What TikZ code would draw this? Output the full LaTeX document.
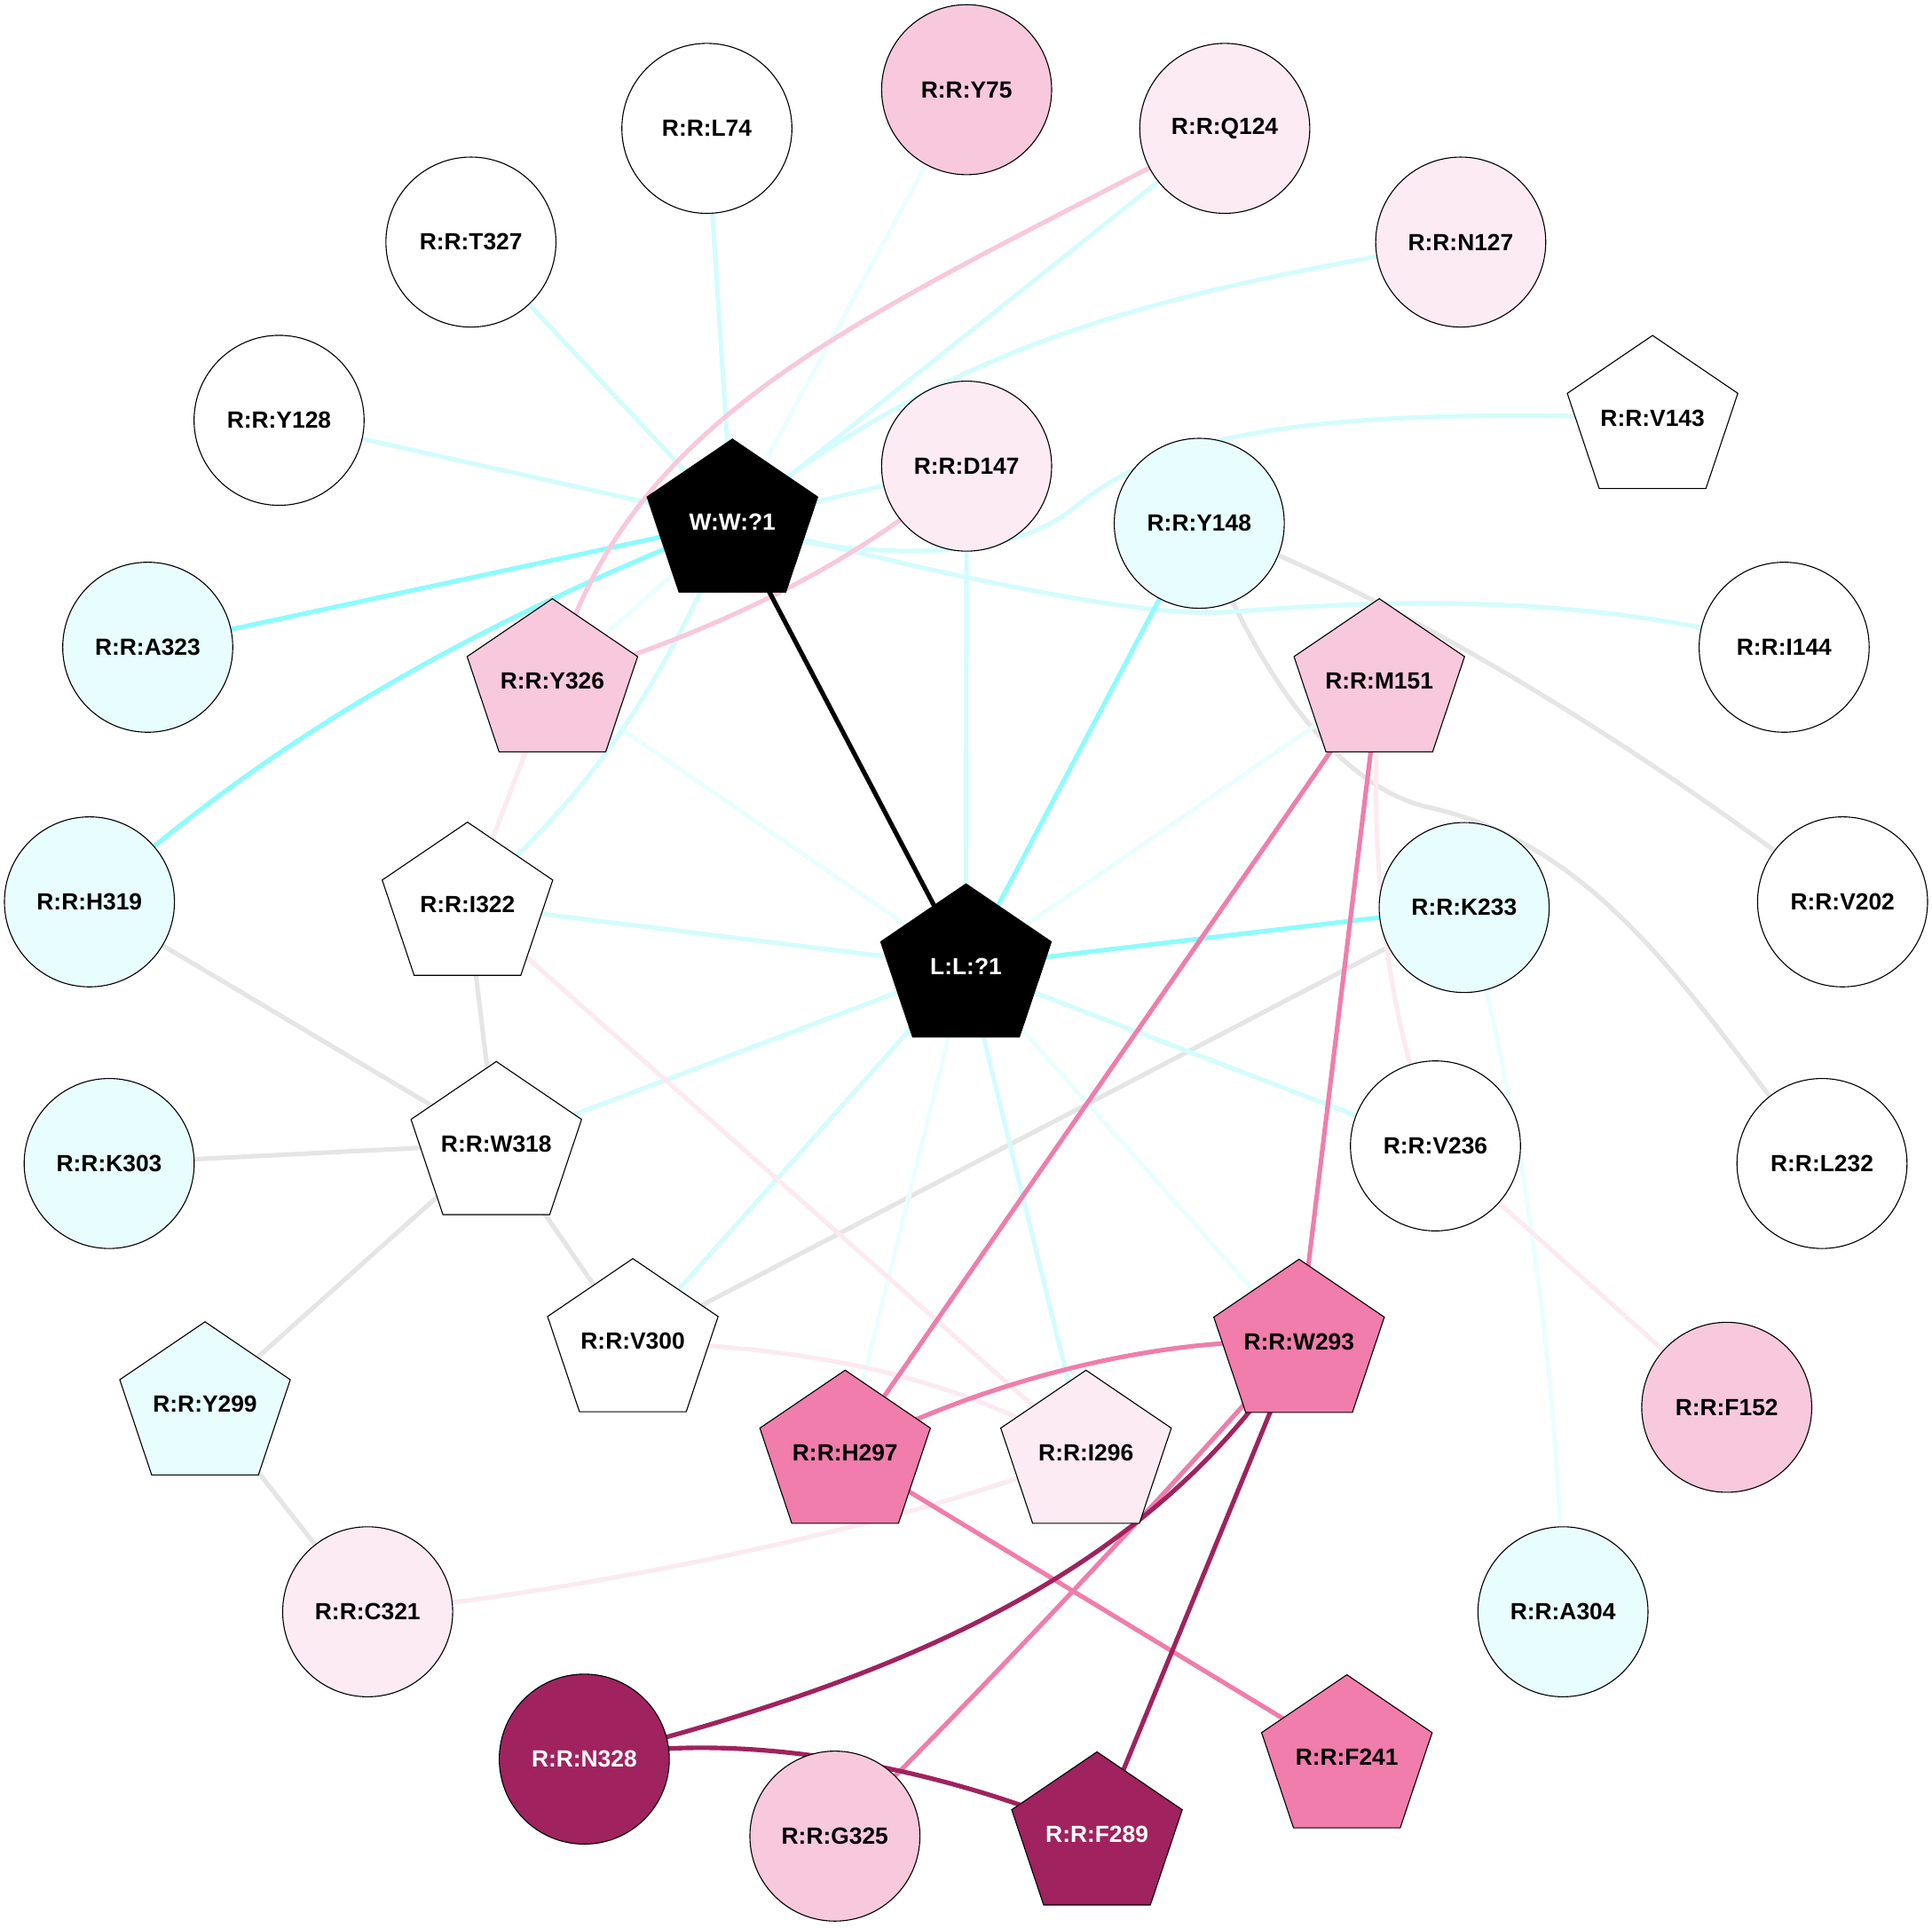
\documentclass[tikz,border=0pt]{standalone}
\usepackage{fontspec}
\setmainfont{Liberation Sans}
\pgfdeclarelayer{bg}
\pgfdeclarelayer{mid}
\pgfsetlayers{bg,mid,main}
\definecolor{nLC}{HTML}{E8FEFE}
\definecolor{nLP}{HTML}{FCEBF3}
\definecolor{nP}{HTML}{F8C8DD}
\definecolor{nM}{HTML}{F07DAC}
\definecolor{nD}{HTML}{A0225E}
\definecolor{eC}{HTML}{D4FCFC}
\definecolor{eCF}{HTML}{EAFEFE}
\definecolor{eCB}{HTML}{8CFCFC}
\definecolor{eG}{HTML}{E5E5E5}
\definecolor{eP}{HTML}{F8C8DC}
\definecolor{ePF}{HTML}{FCEAF1}
\definecolor{eM}{HTML}{F07DAB}
\definecolor{eD}{HTML}{A0225E}
\tikzset{
  nfont/.style={font=\fontsize{19pt}{22pt}\selectfont\bfseries},
  circ/.style={nfont, draw=black, line width=0.8pt, inner sep=0pt, text=black,
    circle, minimum size=138pt},
  ptext/.style={nfont, inner sep=0pt, text=black},
  pentline/.style={draw=black, line width=0.8pt, line join=miter},
  fw/.style={fill=white},
  flc/.style={fill=nLC},
  flp/.style={fill=nLP},
  fp/.style={fill=nP},
  fm/.style={fill=nM},
  fd/.style={fill=nD, text=white},
  fk/.style={fill=black, text=white},
  wtext/.style={text=white},
  edgebase/.style={line width=3.7pt},
  ecyan/.style={edgebase, draw=eC},
  efaintc/.style={edgebase, draw=eCF},
  ebright/.style={edgebase, draw=eCB},
  egray/.style={edgebase, draw=eG},
  epink/.style={edgebase, draw=eP},
  efaintp/.style={edgebase, draw=ePF},
  emed/.style={edgebase, draw=eM},
  edark/.style={edgebase, draw=eD},
  eblack/.style={edgebase, draw=black},
}
% pentagon outline around a named text node (label centre)
\newcommand\pentaround[2]{%
  \begin{pgfonlayer}{mid}
  \path[pentline,#2] ([shift={(0,-67)}]#1.center) -- ([shift={(69.2,-20)}]#1.center)
    -- ([shift={(43.3,57.3)}]#1.center) -- ([shift={(-43.3,57.3)}]#1.center)
    -- ([shift={(-69.2,-20)}]#1.center) -- cycle;
  \end{pgfonlayer}}
\begin{document}
\begin{tikzpicture}[x=1pt,y=-1pt]
\useasboundingbox (0,0) rectangle (1568,1564.4);
% circles
\node[circ,fw]  (L74)  at (573.7,104.2) {R:R:L74};
\node[circ,fp]  (Y75)  at (784.5,72.8) {R:R:Y75};
\node[circ,flp] (Q124) at (994,104.2) {R:R:Q124};
\node[circ,fw]  (T327) at (382.2,196.5) {R:R:T327};
\node[circ,flp] (N127) at (1185.5,196.5) {R:R:N127};
\node[circ,fw]  (Y128) at (226.5,341.2) {R:R:Y128};
\node[circ,flp] (D147) at (784.5,378.4) {R:R:D147};
\node[circ,flc] (Y148) at (973.3,424.8) {R:R:Y148};
\node[circ,flc] (A323) at (119.9,525.4) {R:R:A323};
\node[circ,fw]  (I144) at (1448,525.4) {R:R:I144};
\node[circ,flc] (H319) at (72.6,732.1) {R:R:H319};
\node[circ,flc] (K233) at (1188.3,736.7) {R:R:K233};
\node[circ,fw]  (V202) at (1495.4,732.1) {R:R:V202};
\node[circ,flc] (K303) at (88.6,944.5) {R:R:K303};
\node[circ,fw]  (V236) at (1165,930.2) {R:R:V236};
\node[circ,fw]  (L232) at (1478.7,944.5) {R:R:L232};
\node[circ,fp]  (F152) at (1401.4,1142.4) {R:R:F152};
\node[circ,flp] (C321) at (298.4,1308.4) {R:R:C321};
\node[circ,flc] (A304) at (1268.5,1308.4) {R:R:A304};
\node[circ,fd]  (N328) at (474.2,1428) {R:R:N328};
\node[circ,fp]  (G325) at (677.6,1490.5) {R:R:G325};
% pentagon nodes (text at label centre; outline drawn by \pentaround)
\node[ptext,wtext] (W)    at (594.4,423.4) {W:W:?1};
\node[ptext] (Y326) at (448.3,553) {R:R:Y326};
\node[ptext] (M151) at (1119.4,553) {R:R:M151};
\node[ptext] (V143) at (1341.2,339.3) {R:R:V143};
\node[ptext] (I322) at (379.4,734.4) {R:R:I322};
\node[ptext,wtext] (L)    at (784,784.5) {L:L:?1};
\node[ptext] (W318) at (402.8,928.7) {R:R:W318};
\node[ptext] (V300) at (513.6,1088.7) {R:R:V300};
\node[ptext] (Y299) at (166.4,1140) {R:R:Y299};
\node[ptext] (H297) at (685.9,1179.3) {R:R:H297};
\node[ptext] (W293) at (1054.3,1089.2) {R:R:W293};
\node[ptext] (I296) at (881.4,1179.3) {R:R:I296};
\node[ptext] (F241) at (1093.1,1426.5) {R:R:F241};
\node[ptext,wtext] (F289) at (890.3,1489.1) {R:R:F289};
\pentaround{W}{fill=black}
\pentaround{Y326}{fill=nP}
\pentaround{M151}{fill=nP}
\pentaround{V143}{fill=white}
\pentaround{I322}{fill=white}
\pentaround{L}{fill=black}
\pentaround{W318}{fill=white}
\pentaround{V300}{fill=white}
\pentaround{Y299}{fill=nLC}
\pentaround{H297}{fill=nM}
\pentaround{W293}{fill=nM}
\pentaround{I296}{fill=nLP}
\pentaround{F241}{fill=nM}
\pentaround{F289}{fill=nD}

\begin{pgfonlayer}{bg}
% gray
\draw[egray] (Y148.center) .. controls (1150,490) and (1350,620) .. (V202.center);
\draw[egray] (Y148.center) .. controls (1015.3,537.6) and (1081.8,638.3) .. (1160,655.5)
   .. controls (1306.6,687.8) and (1384.2,828.1) .. (L232.center);
\draw[egray] (K233.center) -- (V300.center);
\draw[egray] (H319.center) -- (W318.center);
\draw[egray] (K303.center) -- (W318.center);
\draw[egray] (W318.center) -- (Y299.center);
\draw[egray] (W318.center) -- (V300.center);
\draw[egray] (Y299.center) -- (C321.center);
\draw[egray] (I322.center) -- (W318.center);
% faint cyan
\draw[efaintc] (W.center) -- (Y75.center);
\draw[efaintc] (W.center) -- (Y326.center);
\draw[efaintc] (L.center) -- (Y326.center);
\draw[efaintc] (L.center) -- (M151.center);
\draw[efaintc] (L.center) -- (H297.center);
\draw[efaintc] (L.center) -- (W293.center);
\draw[efaintc] (K233.center) .. controls (1230,880) and (1265,1100) .. (A304.center);
% cyan
\draw[ecyan] (W.center) -- (L74.center);
\draw[ecyan] (W.center) -- (Q124.center);
\draw[ecyan] (W.center) -- (T327.center);
\draw[ecyan] (W.center) -- (Y128.center);
\draw[ecyan] (W.center) -- (D147.center);
\draw[ecyan] (L.center) -- (D147.center);
\draw[ecyan] (L.center) -- (I322.center);
\draw[ecyan] (L.center) -- (W318.center);
\draw[ecyan] (L.center) -- (V300.center);
\draw[ecyan] (L.center) -- (I296.center);
\draw[ecyan] (L.center) -- (V236.center);
\draw[ecyan] (W.center) -- (632,392) .. controls (794,276) and (939,237.5) .. (N127.center);
\draw[ecyan] (W.center) -- (640,438) .. controls (720,452) and (820,455) .. (872,412)
   .. controls (941,355) and (1050,330) .. (V143.center);
\draw[ecyan] (W.center) .. controls (739.5,460.5) and (900,497.5) .. (985,497.5)
   .. controls (1040,495) and (1250,470) .. (I144.center);
\draw[ecyan] (W.center) .. controls (514.4,610) and (449.4,665) .. (I322.center);
% bright cyan
\draw[ebright] (W.center) -- (A323.center);
\draw[ebright] (L.center) -- (Y148.center);
\draw[ebright] (L.center) -- (K233.center);
\draw[ebright] (W.center) .. controls (400,500) and (230,590) .. (H319.center);
% pinks
\draw[epink] (Q124.center) .. controls (702,259) and (510,330) .. (Y326.center);
\draw[epink] (D147.center) .. controls (690,465) and (560,520) .. (Y326.center);
\draw[efaintp] (Y326.center) -- (I322.center);
\draw[efaintp] (I322.center) -- (I296.center);
\draw[efaintp] (V300.center) .. controls (650,1095) and (760,1110) .. (I296.center);
\draw[efaintp] (C321.center) .. controls (450,1295) and (720,1245) .. (I296.center);
\draw[efaintp] (M151.center) .. controls (1110,700) and (1125,820) .. (V236.center);
\draw[efaintp] (V236.center) -- (F152.center);
\draw[emed] (H297.center) .. controls (790,1125) and (930,1085) .. (W293.center);
\draw[emed] (H297.center) -- (M151.center);
\draw[emed] (W293.center) -- (M151.center);
\draw[emed] (W293.center) .. controls (950,1210) and (780,1390) .. (G325.center);
\draw[emed] (H297.center) -- (F241.center);
\draw[edark] (W293.center) .. controls (930,1290) and (700,1370) .. (N328.center);
\draw[edark] (W293.center) -- (F289.center);
\draw[edark] (N328.center) .. controls (580,1405) and (740,1425) .. (F289.center);
% black
\draw[eblack] (W.center) -- (L.center);
\end{pgfonlayer}
\end{tikzpicture}
\end{document}
